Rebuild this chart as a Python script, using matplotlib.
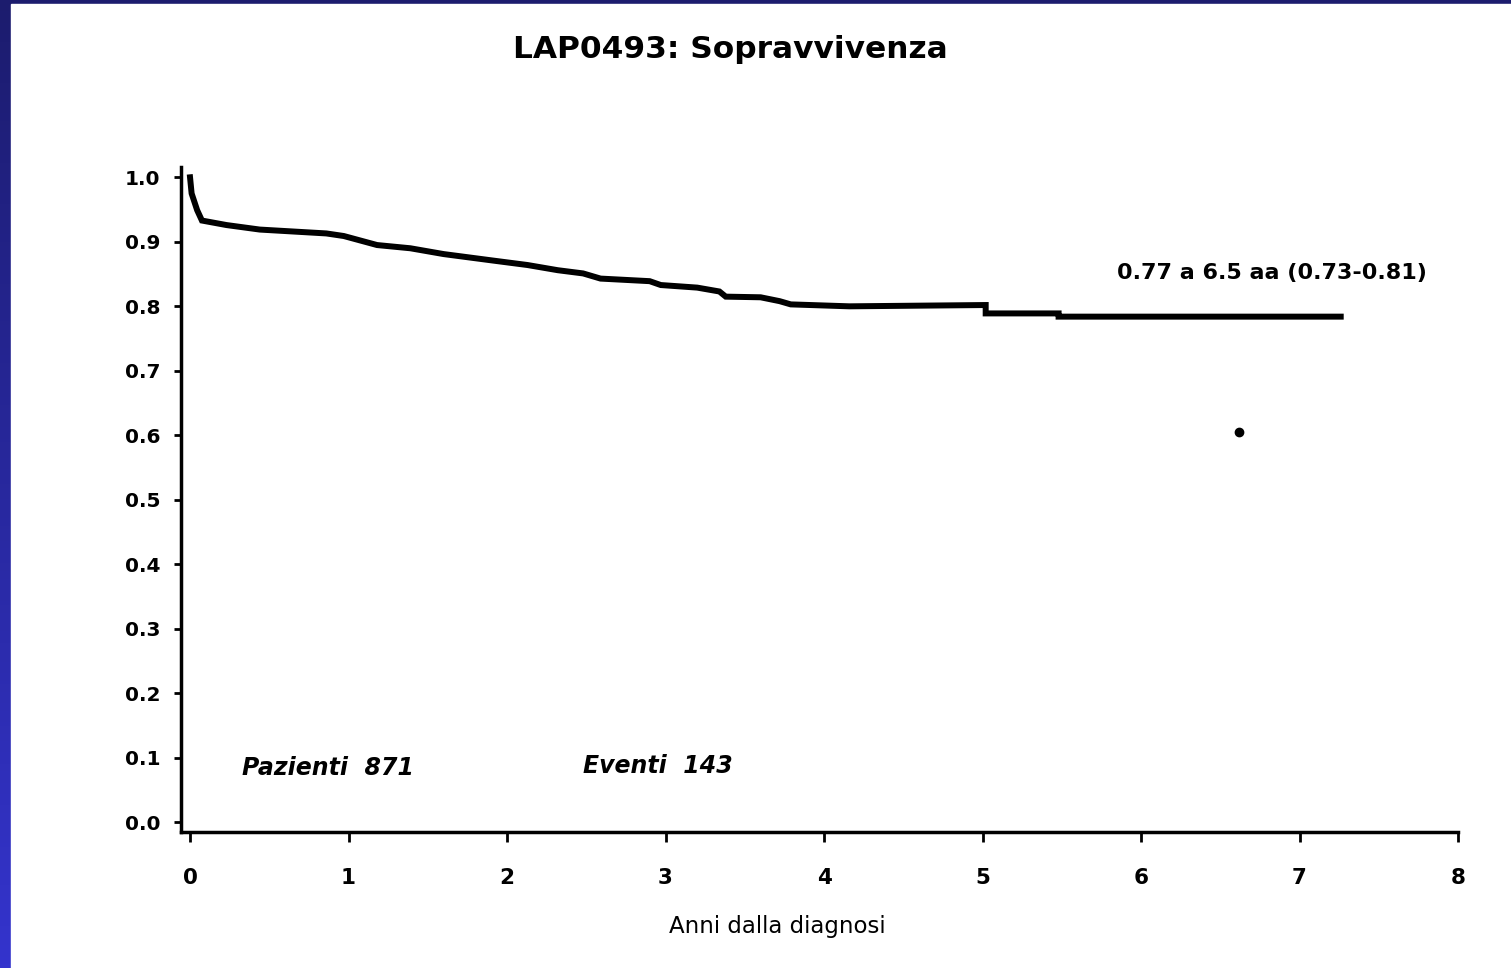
import numpy as np
import matplotlib
matplotlib.use("Agg")
import matplotlib.pyplot as plt
from matplotlib.patches import Rectangle

# scanned slide is stretched horizontally, DejaVu's wider glyphs fit it better
plt.rcParams['font.family'] = ['DejaVu Sans']

# Kaplan-Meier curve (years, survival)
anni = [0.0, 0.01, 0.045, 0.075, 0.23, 0.44, 0.65, 0.86, 0.97, 1.18, 1.39, 1.60,
        1.91, 2.13, 2.32, 2.48, 2.59, 2.90, 2.97, 3.20, 3.34, 3.38, 3.60, 3.72,
        3.79, 4.16, 5.02, 5.02, 5.48, 5.48, 7.26]
sopravv = [1.0, 0.975, 0.949, 0.933, 0.926, 0.919, 0.916, 0.913, 0.909, 0.895, 0.890, 0.881,
           0.871, 0.864, 0.856, 0.851, 0.843, 0.839, 0.833, 0.829, 0.823, 0.815, 0.814, 0.808,
           0.803, 0.800, 0.802, 0.789, 0.789, 0.784, 0.784]

# stray speck on the scanned page
speck_x = [6.62]
speck_y = [0.605]

x_ticks = [0, 1, 2, 3, 4, 5, 6, 7, 8]
y_ticks = [0.0, 0.1, 0.2, 0.3, 0.4, 0.5, 0.6, 0.7, 0.8, 0.9, 1.0]

titolo = "LAP0493: Sopravvivenza"
nota = "0.77 a 6.5 aa (0.73-0.81)"
pazienti = "Pazienti  871"
eventi = "Eventi  143"
xlab = "Anni dalla diagnosi"

W, H = 1511, 968
fig = plt.figure(figsize=(W / 100, H / 100), dpi=100)

# blue slide background with gradient, white page on top
bg = fig.add_axes([0, 0, 1, 1])
grad = np.linspace(0, 1, 256).reshape(-1, 1)
top = np.array([28, 28, 110]) / 255
bot = np.array([52, 52, 205]) / 255
img = top[None, None, :] * (1 - grad[:, :, None]) + bot[None, None, :] * grad[:, :, None]
bg.imshow(img, aspect='auto', extent=[0, 1, 0, 1], origin='upper')
bg.add_patch(Rectangle((11 / W, 0), 1, 1 - 4 / H, color='white', zorder=2))
bg.set_xlim(0, 1)
bg.set_ylim(0, 1)
bg.axis('off')

ax = fig.add_axes([181 / W, 136 / H, (1458 - 181) / W, (832 - 167) / H])
ax.patch.set_alpha(0)
ax.plot(anni, sopravv, color='black', lw=4.3, solid_joinstyle='miter')
ax.plot(speck_x, speck_y, 'o', color='black', ms=6)

ax.set_xlim(-0.057, 8.0)
ax.set_ylim(-0.015, 1.016)
ax.set_xticks(x_ticks)
ax.set_yticks(y_ticks)
ax.set_xticklabels([str(v) for v in x_ticks], fontsize=15.5, fontweight='bold')
ax.set_yticklabels([f"{v:.1f}" for v in y_ticks], fontsize=14.5, fontweight='bold')
ax.tick_params(axis='x', direction='out', length=7, width=2, pad=19)
ax.tick_params(axis='y', direction='out', length=5, width=2, pad=10)
for s in ['top', 'right']:
    ax.spines[s].set_visible(False)
for s in ['left', 'bottom']:
    ax.spines[s].set_linewidth(2.5)

ax.text(5.85, 0.851, nota, fontsize=16, fontweight='bold', va='center', ha='left')
ax.text(0.33, 0.084, pazienti, fontsize=17, fontweight='bold', style='italic', va='center')
ax.text(2.48, 0.087, eventi, fontsize=17, fontweight='bold', style='italic', va='center')

fig.text(730 / W, 1 - 49 / H, titolo, fontsize=22.5, fontweight='bold', ha='center', va='center')
fig.text(777 / W, 1 - 927 / H, xlab, fontsize=16.5, ha='center', va='center')

fig.savefig("out.png", dpi=100)
